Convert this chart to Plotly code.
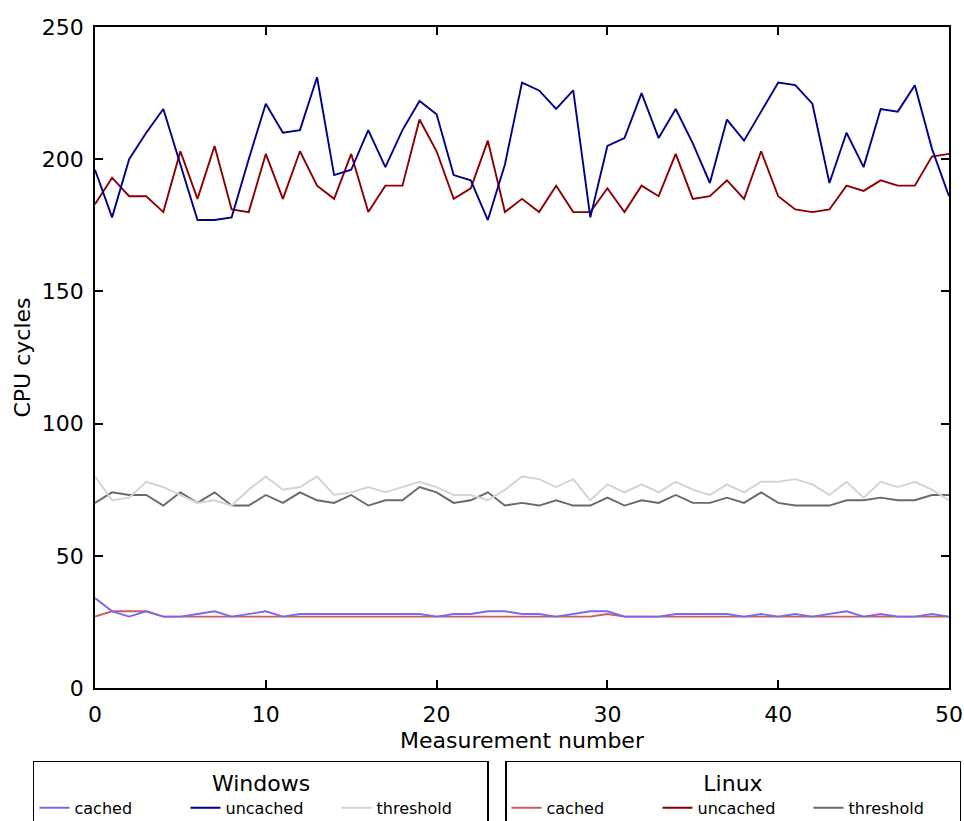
import plotly.graph_objects as go

measurement = list(range(51))

win_cached = [34, 29, 27, 29, 27, 27, 28, 29, 27, 28,
              29, 27, 28, 28, 28, 28, 28, 28, 28, 28,
              27, 28, 28, 29, 29, 28, 28, 27, 28, 29,
              29, 27, 27, 27, 28, 28, 28, 28, 27, 28,
              27, 28, 27, 28, 29, 27, 28, 27, 27, 28, 27]
win_uncached = [196, 178, 200, 210, 219, 198, 177, 177, 178, 200,
                221, 210, 211, 231, 194, 196, 211, 197, 211, 222,
                217, 194, 192, 177, 198, 229, 226, 219, 226, 178,
                205, 208, 225, 208, 219, 206, 191, 215, 207, 218,
                229, 228, 221, 191, 210, 197, 219, 218, 228, 204, 186]
win_threshold = [80, 71, 72, 78, 76, 73, 70, 71, 69, 75,
                 80, 75, 76, 80, 73, 74, 76, 74, 76, 78,
                 76, 73, 73, 71, 75, 80, 79, 76, 79, 71,
                 77, 74, 77, 74, 78, 75, 73, 77, 74, 78,
                 78, 79, 77, 73, 78, 72, 78, 76, 78, 75, 71]

lin_cached = [27, 29, 29, 29, 27, 27, 27, 27, 27, 27,
              27, 27, 27, 27, 27, 27, 27, 27, 27, 27,
              27, 27, 27, 27, 27, 27, 27, 27, 27, 27,
              28, 27, 27, 27, 27, 27, 27, 27, 27, 27,
              27, 27, 27, 27, 27, 27, 27, 27, 27, 27, 27]
lin_uncached = [183, 193, 186, 186, 180, 203, 185, 205, 181, 180,
                202, 185, 203, 190, 185, 202, 180, 190, 190, 215,
                203, 185, 189, 207, 180, 185, 180, 190, 180, 180,
                189, 180, 190, 186, 202, 185, 186, 192, 185, 203,
                186, 181, 180, 181, 190, 188, 192, 190, 190, 201, 202]
lin_threshold = [70, 74, 73, 73, 69, 74, 70, 74, 69, 69,
                 73, 70, 74, 71, 70, 73, 69, 71, 71, 76,
                 74, 70, 71, 74, 69, 70, 69, 71, 69, 69,
                 72, 69, 71, 70, 73, 70, 70, 72, 70, 74,
                 70, 69, 69, 69, 71, 71, 72, 71, 71, 73, 73]

series_names = ["cached", "uncached", "threshold"]
win_colors = ["#7B68EE", "#00008B", "#D3D3D3"]
lin_colors = ["#CD5C5C", "#8B0000", "#696969"]

FONT = "DejaVu Sans"
fig = go.Figure()

for name, ys, col in zip(series_names, [lin_cached, lin_uncached, lin_threshold], lin_colors):
    fig.add_trace(go.Scatter(x=measurement, y=ys, mode="lines", name=name,
                             line=dict(color=col, width=1.9), legend="legend2"))
for name, ys, col in zip(series_names, [win_cached, win_uncached, win_threshold], win_colors):
    fig.add_trace(go.Scatter(x=measurement, y=ys, mode="lines", name=name,
                             line=dict(color=col, width=1.9), legend="legend"))

axis_common = dict(showline=True, linecolor="black", linewidth=1.6, mirror="ticks",
                   ticks="inside", ticklen=8, tickwidth=1.5, tickcolor="black",
                   showgrid=False, zeroline=False,
                   tickfont=dict(family=FONT, size=22, color="black"))

fig.update_xaxes(range=[0, 50], tickvals=[0, 10, 20, 30, 40, 50],
                 title=dict(text="Measurement number", font=dict(family=FONT, size=22, color="black"), standoff=6),
                 ticklabelstandoff=6, **axis_common)
fig.update_yaxes(range=[0, 250], tickvals=[0, 50, 100, 150, 200, 250],
                 title=dict(text="CPU cycles", font=dict(family=FONT, size=22, color="black"), standoff=5),
                 ticklabelstandoff=5, **axis_common)

leg_common = dict(orientation="h", xanchor="left", yanchor="top", yref="paper", xref="paper",
                  bordercolor="black", borderwidth=1.5, bgcolor="white",
                  font=dict(family=FONT, size=16, color="black"),
                  entrywidth=106, entrywidthmode="pixels", traceorder="normal")

fig.update_layout(
    width=964, height=821,
    margin=dict(l=95, r=15, t=27, b=133, autoexpand=False),
    paper_bgcolor="white", plot_bgcolor="white",
    font=dict(family=FONT, color="black"),
    legend=dict(title=dict(text="Windows", side="top center", font=dict(family=FONT, size=22)),
                x=-0.0726, y=-0.110, **leg_common),
    legend2=dict(title=dict(text="Linux", side="top center", font=dict(family=FONT, size=22)),
                 x=0.4801, y=-0.110, **leg_common),
)

fig.write_html("out.html")
